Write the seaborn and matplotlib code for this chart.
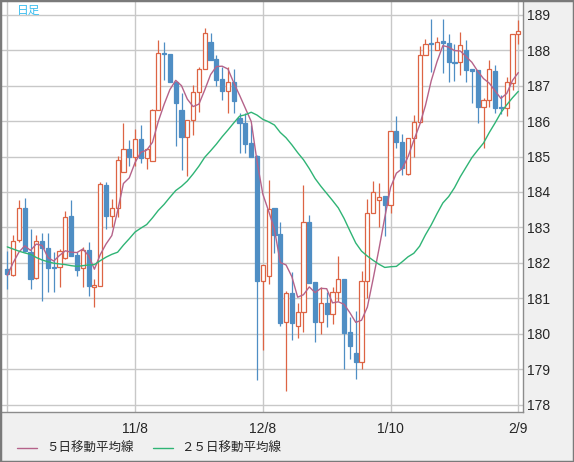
import numpy as np
import pandas as pd
import seaborn as sns
import matplotlib
matplotlib.use("Agg")
import matplotlib.pyplot as plt
from matplotlib.lines import Line2D
from matplotlib.patches import Rectangle

# 日足 (営業日, 元日は休場)
dates = pd.bdate_range("2023-10-09", "2024-02-09")
dates = dates[dates != pd.Timestamp("2024-01-01")]

opens = [181.83, 181.67, 182.64, 183.54, 182.30, 181.57, 182.61, 182.42, 181.87, 181.87,
         182.13, 183.31, 182.22, 181.85, 182.36, 181.32, 181.36, 184.19, 183.31, 183.54,
         184.55, 185.22, 185.00, 185.50, 184.97, 184.88, 186.31, 187.93, 187.90, 187.11,
         186.31, 185.56, 186.03, 186.83, 187.48, 188.22, 187.74, 187.20, 186.86, 187.09,
         186.09, 185.95, 185.37, 185.02, 181.49, 181.62, 183.55, 182.81, 180.32, 181.15,
         180.21, 180.60, 183.14, 181.45, 180.34, 180.88, 180.55, 181.17, 181.54, 180.06,
         179.45, 179.19, 181.48, 183.42, 183.78, 183.89, 183.63, 185.73, 185.41, 184.51,
         185.52, 185.97, 187.86, 188.19, 188.02, 188.25, 188.21, 187.67, 187.67, 188.00,
         187.47, 187.44, 186.41, 186.60, 187.41, 186.41, 186.36, 187.08, 188.45]
highs = [182.34, 182.78, 183.78, 183.83, 182.95, 182.78, 182.84, 182.84, 182.30, 182.39,
         183.47, 183.78, 182.31, 182.44, 182.60, 181.53, 184.27, 184.27, 183.80, 185.02,
         185.95, 185.48, 185.77, 185.90, 185.25, 186.33, 188.28, 188.23, 187.90, 187.11,
         186.78, 186.03, 187.02, 187.53, 188.64, 188.50, 187.86, 187.53, 187.53, 187.48,
         186.23, 186.23, 185.90, 185.04, 181.94, 184.34, 183.55, 183.16, 181.21, 181.73,
         180.88, 184.19, 183.35, 181.45, 181.33, 181.17, 181.31, 182.20, 181.54, 180.46,
         180.65, 181.78, 183.80, 184.31, 184.25, 183.89, 185.73, 186.15, 185.64, 185.52,
         186.18, 188.11, 188.33, 188.89, 188.36, 188.89, 188.45, 188.17, 188.51, 188.28,
         187.47, 187.44, 186.64, 187.72, 187.58, 186.74, 187.25, 188.45, 188.84]
lows = [181.26, 181.62, 182.60, 182.30, 181.26, 181.54, 180.91, 181.19, 181.19, 181.31,
        182.10, 182.18, 181.64, 181.31, 181.06, 180.75, 181.36, 182.95, 183.00, 183.28,
        184.55, 184.73, 184.73, 184.83, 184.66, 184.88, 186.31, 187.16, 187.11, 185.30,
        184.61, 184.44, 185.60, 186.27, 187.48, 187.72, 187.00, 186.59, 186.22, 186.22,
        185.10, 185.11, 185.00, 178.70, 179.55, 181.40, 182.27, 180.23, 178.39, 179.83,
        179.87, 180.06, 181.43, 179.77, 179.99, 180.18, 180.27, 180.93, 179.00, 179.29,
        178.72, 179.00, 181.02, 183.42, 183.00, 182.77, 183.40, 185.24, 184.48, 184.48,
        185.00, 185.95, 187.86, 187.39, 188.02, 187.35, 187.11, 187.14, 187.30, 187.11,
        186.50, 185.96, 185.24, 186.41, 186.22, 186.21, 186.15, 186.88, 188.19]
closes = [181.69, 182.61, 183.56, 182.34, 181.53, 182.61, 182.42, 181.85, 181.85, 182.32,
          183.28, 182.20, 181.81, 182.36, 181.36, 181.38, 184.22, 183.33, 183.54, 184.90,
          185.22, 185.00, 185.50, 184.97, 185.22, 186.31, 187.93, 187.90, 187.11, 186.52,
          185.56, 186.03, 186.83, 187.48, 188.50, 187.72, 187.17, 186.86, 187.09, 186.57,
          185.95, 185.34, 185.00, 181.49, 181.94, 183.53, 182.78, 180.30, 181.15, 180.30,
          180.60, 183.14, 181.43, 180.34, 180.88, 180.55, 181.17, 181.54, 180.02, 179.66,
          179.19, 181.48, 183.42, 184.01, 183.87, 183.63, 185.73, 185.40, 184.68, 185.52,
          185.97, 187.86, 188.19, 188.17, 188.23, 188.21, 187.67, 187.65, 188.14, 187.44,
          187.42, 186.41, 186.60, 187.46, 186.38, 186.36, 187.11, 188.45, 188.53]

# 移動平均線 (チャートから読み取り)
ma5 = [181.64, 182.00, 182.30, 182.48, 182.35, 182.53, 182.49, 182.15, 182.05, 182.21,
       182.34, 182.30, 182.29, 182.39, 182.20, 181.82, 182.23, 182.53, 182.77, 183.47,
       184.24, 184.40, 184.83, 185.12, 185.18, 185.40, 185.99, 186.47, 186.89, 187.15,
       187.00, 186.62, 186.41, 186.48, 186.88, 187.31, 187.54, 187.55, 187.47, 187.08,
       186.73, 186.36, 185.99, 184.87, 183.94, 183.46, 182.95, 182.01, 181.94, 181.61,
       181.03, 181.10, 181.32, 181.16, 181.28, 181.27, 180.87, 180.90, 180.83, 180.59,
       180.32, 180.38, 180.75, 181.55, 182.39, 183.28, 184.13, 184.53, 184.66, 184.99,
       185.46, 185.89, 186.44, 187.14, 187.68, 188.13, 188.09, 187.99, 187.98, 187.82,
       187.66, 187.41, 187.20, 187.07, 186.85, 186.64, 186.78, 187.15, 187.37]
ma25 = [182.45, 182.39, 182.33, 182.28, 182.24, 182.15, 182.08, 182.03, 181.99, 181.97,
        181.95, 181.92, 181.90, 181.92, 181.94, 181.95, 182.06, 182.16, 182.24, 182.30,
        182.50, 182.68, 182.87, 182.98, 183.08, 183.27, 183.48, 183.65, 183.85, 184.04,
        184.16, 184.31, 184.51, 184.73, 184.98, 185.16, 185.35, 185.56, 185.75, 185.95,
        186.14, 186.18, 186.25, 186.17, 186.05, 185.98, 185.89, 185.68, 185.53, 185.33,
        185.11, 184.91, 184.66, 184.38, 184.16, 183.96, 183.76, 183.55, 183.25, 182.90,
        182.56, 182.33, 182.19, 182.07, 181.96, 181.87, 181.89, 181.90, 182.03, 182.17,
        182.27, 182.47, 182.79, 183.07, 183.39, 183.69, 183.87, 184.12, 184.43, 184.70,
        184.97, 185.18, 185.38, 185.68, 185.95, 186.24, 186.46, 186.66, 186.84]

grid_dates = ["2023-10-09", "2023-11-08", "2023-12-08", "2024-01-10", "2024-02-09"]
y_ticks = list(range(178, 190))

up_col = "#dd6444"
down_col = "#4f8ec4"
ma5_col = "#b5638a"
ma25_col = "#2fb475"

df = pd.DataFrame({"x": np.arange(len(dates)), "open": opens, "high": highs,
                   "low": lows, "close": closes, "ma5": ma5, "ma25": ma25})
df["up"] = df["close"] >= df["open"]

sns.set_style("white")
plt.rcParams["font.family"] = ["Liberation Sans", "Noto Sans CJK JP", "DejaVu Sans"]

fig = plt.figure(figsize=(5.74, 4.62), dpi=100, facecolor="#f0f0f0")
ax = fig.add_axes([2 / 574, 50 / 462, 521 / 574, 411 / 462])
ax.set_facecolor("white")

# ローソク足
wick_cols = np.where(df["up"], up_col, down_col)
ax.vlines(df["x"], df["low"], df["high"], colors=wick_cols, linewidth=0.9, zorder=2)
body_h = np.maximum((df["close"] - df["open"]).abs(), 0.03)
body_b = np.minimum(df["open"], df["close"])
ax.bar(df["x"], body_h, bottom=body_b, width=0.72,
       color=np.where(df["up"], "white", down_col),
       edgecolor=wick_cols, linewidth=0.9, zorder=3)

sns.lineplot(data=df, x="x", y="ma5", ax=ax, color=ma5_col, linewidth=1.0, zorder=4)
sns.lineplot(data=df, x="x", y="ma25", ax=ax, color=ma25_col, linewidth=1.0, zorder=4)

ax.set_xlim(-0.91, 88.8)
ax.set_ylim(177.79, 189.39)

pos = [dates.get_loc(pd.Timestamp(d)) for d in grid_dates]
labels = [f"{pd.Timestamp(d).month}/{pd.Timestamp(d).day}" for d in grid_dates]
labels[0] = ""
ax.set_xticks(pos)
ax.set_xticklabels(labels)
ax.set_yticks(y_ticks)
ax.yaxis.tick_right()
ax.tick_params(axis="y", length=0, pad=3, labelsize=10)
ax.tick_params(axis="x", length=0, pad=7, labelsize=10)
ax.set_xlabel("")
ax.set_ylabel("")
ax.grid(True, color="#c8c8c8", linewidth=1)
ax.set_axisbelow(True)
for s in ["left", "top"]:
    ax.spines[s].set_visible(False)
for s in ["right", "bottom"]:
    ax.spines[s].set_color("#8c8c8c")
    ax.spines[s].set_linewidth(1)

cjk = ["Noto Sans CJK JP", "DejaVu Sans"]
fig.text(16.5 / 574, 1 - 10 / 462, "日足", color="#3cbff0", fontsize=8.5,
         family=cjk, ha="left", va="center")

# 凡例
y_leg = 1 - 448 / 462
fig.add_artist(Line2D([16.5 / 574, 36.6 / 574], [y_leg, y_leg], color=ma5_col,
                      linewidth=1, transform=fig.transFigure))
fig.text(45.8 / 574, y_leg, "５日移動平均線", fontsize=9, family=cjk, ha="left", va="center")
fig.add_artist(Line2D([153 / 574, 173 / 574], [y_leg, y_leg], color=ma25_col,
                      linewidth=1, transform=fig.transFigure))
fig.text(181 / 574, y_leg, "２５日移動平均線", fontsize=9, family=cjk, ha="left", va="center")

fig.patches.append(Rectangle((0, 0), 1, 1, transform=fig.transFigure, fill=False,
                             edgecolor="#7a7a7a", linewidth=2.5))

fig.savefig("out.png", dpi=100, facecolor=fig.get_facecolor())
plt.close()
